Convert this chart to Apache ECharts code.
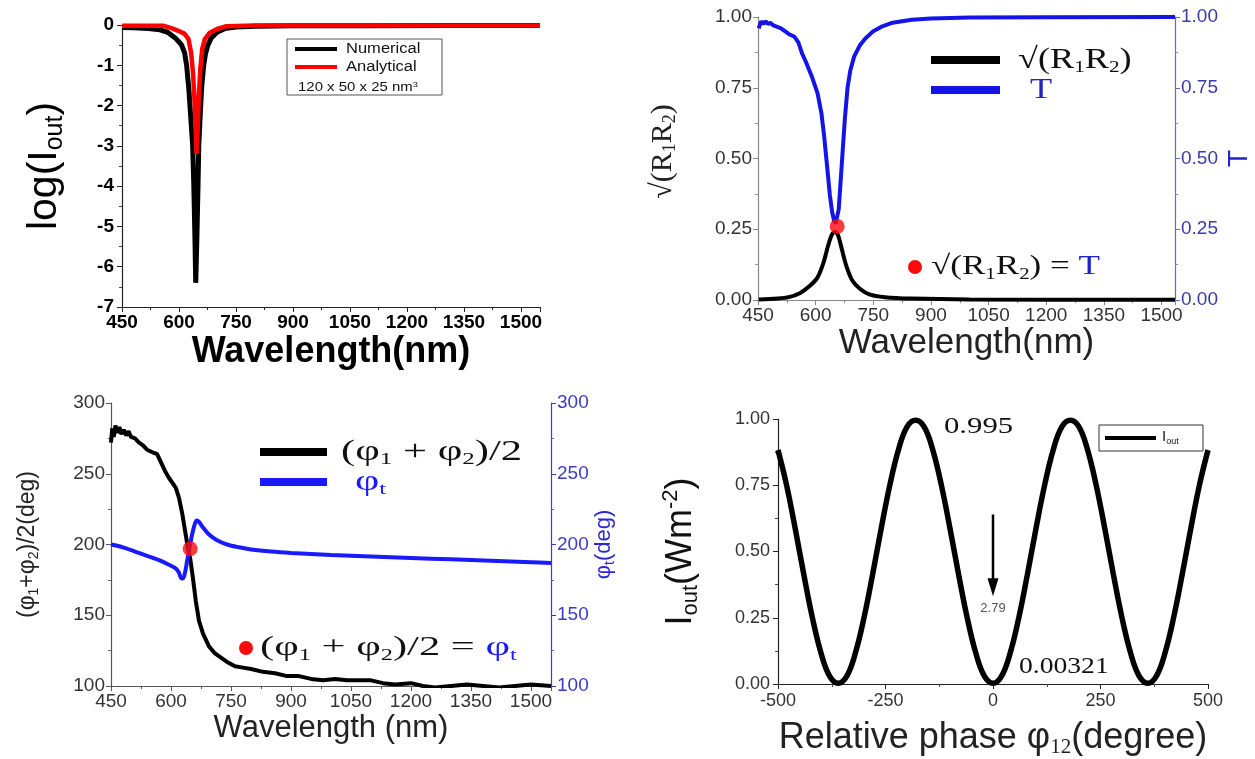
<!DOCTYPE html>
<html>
<head>
<meta charset="utf-8">
<script src="https://cdn.jsdelivr.net/npm/echarts@6/dist/echarts.min.js"></script>
<style>
  html, body { margin: 0; background: #fff; }
  #main { width: 1255px; height: 759px; }
</style>
</head>
<body>
<div id="main"></div>
<script>
// panel 1: log(Iout) vs wavelength
const numerical = [[450,-0.06],[480,-0.07],[520,-0.09],[550,-0.12],[570,-0.18],[590,-0.32],[600,-0.42],[607,-0.5],[615,-0.7],[620,-1.0],[626,-1.6],[631,-2.3],[636,-3.0],[639,-4.0],[642,-5.3],[644,-6.4],[647,-5.3],[650,-4.0],[652,-3.0],[656,-2.2],[660,-1.5],[665,-1.0],[670,-0.7],[676,-0.5],[685,-0.32],[700,-0.18],[720,-0.09],[750,-0.05],[800,-0.03],[900,-0.02],[1100,-0.02],[1300,-0.01],[1550,-0.01]];
const analytical = [[450,-0.02],[560,-0.02],[580,-0.08],[600,-0.15],[615,-0.22],[625,-0.35],[632,-0.7],[637,-1.2],[641,-1.9],[644,-2.6],[646,-3.2],[649,-2.6],[652,-1.8],[656,-1.1],[661,-0.6],[668,-0.35],[680,-0.2],[700,-0.1],[725,-0.03],[800,-0.01],[1550,-0.01]];

// panel 2: sqrt(R1R2) and T
const sqrtR1R2 = [[452,0.002],[500,0.005],[530,0.01],[560,0.025],[585,0.05],[605,0.08],[620,0.13],[632,0.19],[642,0.23],[650,0.24],[658,0.23],[668,0.18],[680,0.12],[695,0.07],[715,0.04],[740,0.02],[780,0.01],[850,0.005],[1000,0.002],[1535,0.001]];
const transT = [[452,0.96],[458,0.985],[464,0.975],[470,0.985],[476,0.975],[482,0.98],[490,0.97],[500,0.965],[510,0.96],[520,0.95],[530,0.94],[545,0.93],[555,0.91],[565,0.87],[575,0.84],[590,0.79],[605,0.73],[615,0.66],[622,0.58],[630,0.47],[637,0.37],[643,0.31],[648,0.28],[652,0.27],[656,0.275],[660,0.32],[665,0.42],[670,0.52],[676,0.64],[683,0.75],[690,0.81],[700,0.86],[715,0.9],[730,0.925],[750,0.95],[770,0.965],[800,0.98],[850,0.99],[900,0.995],[1000,0.998],[1200,0.999],[1535,1.0]];
const matchT = [[656, 0.26]];

// panel 3: phases
const phaseAvg = [[450,272],[453,282],[457,276],[461,284],[466,279],[471,283],[476,278],[482,281],[488,277],[494,280],[500,276],[510,275],[520,272],[530,270],[540,267],[555,265],[565,264],[575,258],[585,252],[595,247],[605,243],[612,240],[620,233],[628,222],[635,210],[642,198],[648,190],[655,176],[662,160],[670,146],[680,137],[695,128],[710,123],[725,120],[740,117],[760,114],[780,113],[800,112],[830,110],[860,109],[890,107],[920,107],[950,105],[980,104],[1010,105],[1040,104],[1070,104],[1100,104],[1130,102],[1160,101],[1200,102],[1230,100],[1260,99],[1300,100],[1340,101],[1380,100],[1420,99],[1460,100],[1500,101],[1550,100]];
const phaseT = [[450,200],[480,198],[510,195],[540,192],[570,189],[600,185],[612,183],[620,180],[626,176],[630,176],[635,180],[640,188],[646,197],[652,206],[658,213],[664,217],[670,216],[680,212],[695,207],[715,203],[740,200],[770,198],[800,196.5],[850,195],[900,194],[1000,192.5],[1100,191.5],[1200,190.5],[1300,189.5],[1400,188.5],[1500,187.5],[1550,187]];
const matchPhase = [[648, 197]];

// panel 4: Iout vs relative phase
const relPhase = [-500,-480,-460,-440,-420,-400,-380,-360,-340,-320,-300,-280,-260,-240,-220,-200,-180,-160,-140,-120,-100,-80,-60,-40,-20,0,20,40,60,80,100,120,140,160,180,200,220,240,260,280,300,320,340,360,380,400,420,440,460,480,500];
const iOut = [0.883,0.75,0.587,0.413,0.25,0.117,0.030,0.003,0.030,0.117,0.25,0.413,0.587,0.75,0.883,0.970,0.995,0.970,0.883,0.75,0.587,0.413,0.25,0.117,0.030,0.003,0.030,0.117,0.25,0.413,0.587,0.75,0.883,0.970,0.995,0.970,0.883,0.75,0.587,0.413,0.25,0.117,0.030,0.003,0.030,0.117,0.25,0.413,0.587,0.75,0.883];
const arrowPhase = [0, 0];
const arrowLevel = [0.64, 0.365];

const SANS = '"Liberation Sans", Arial, sans-serif';
const SERIF = '"Liberation Serif", "Times New Roman", serif';

const chart = echarts.init(document.getElementById('main'));

const fix2 = v => v.toFixed(2);
const plain = v => String(v);
const sub = (size, font, color) => ({ fontSize: size, fontFamily: font, color: color, verticalAlign: 'bottom', lineHeight: size });
const sup = (size, font, color) => ({ fontSize: size, fontFamily: font, color: color, verticalAlign: 'top', lineHeight: size });
const gSub = (size, font, color) => ({ fontSize: size, fontFamily: font, fill: color, verticalAlign: 'bottom', lineHeight: size });

function axisBase(line, minorColor) {
  return {
    splitLine: { show: false },
    axisLine: { onZero: false, lineStyle: { color: line, width: 1.2 } },
    axisTick: { length: 5, lineStyle: { color: line } },
    minorTick: { show: true, splitNumber: 2, length: 3, lineStyle: { color: minorColor || line } },
    nameLocation: 'middle',
    nameMoveOverlap: false
  };
}

function waveAxis(grid, max, style) {
  return Object.assign(axisBase(style.line), {
    gridIndex: grid, type: 'value', min: 450, max: max, interval: 150,
    axisLabel: { showMaxLabel: false, formatter: plain, color: style.label, fontFamily: SANS, fontSize: style.size, fontWeight: style.weight, margin: 6 }
  });
}

const p4iOut = relPhase.map((p, i) => [p, iOut[i]]);
const p4arrow = [
  { value: [arrowPhase[0], arrowLevel[0]], symbol: 'none' },
  { value: [arrowPhase[1], arrowLevel[1]], symbol: 'triangle', symbolRotate: 180, symbolSize: [11, 18],
    label: { show: true, position: 'bottom', distance: 6, formatter: '2.79', color: '#555', fontFamily: SANS, fontSize: 13 } }
];

chart.setOption({
  animation: false,
  backgroundColor: '#fff',
  grid: [
    { left: 122, top: 25, width: 418, height: 282 },
    { left: 758, top: 17, width: 417, height: 283 },
    { left: 111, top: 403, width: 440, height: 283 },
    { left: 778, top: 419, width: 430, height: 265 }
  ],
  xAxis: [
    Object.assign(waveAxis(0, 1550, { line: '#222', label: '#000', size: 19, weight: 'bold' }), {
      name: 'Wavelength(nm)', nameGap: 25,
      nameTextStyle: { fontFamily: SANS, fontWeight: 'bold', fontSize: 36, color: '#000', lineHeight: 40 }
    }),
    Object.assign(waveAxis(1, 1535, { line: '#888', label: '#333', size: 19, weight: 'normal' }), {
      name: 'Wavelength(nm)', nameGap: 24,
      nameTextStyle: { fontFamily: SANS, fontSize: 35, color: '#222', lineHeight: 38 }
    }),
    Object.assign(waveAxis(2, 1550, { line: '#555', label: '#333', size: 19, weight: 'normal' }), {
      name: 'Wavelength (nm)', nameGap: 25,
      nameTextStyle: { fontFamily: SANS, fontSize: 31, color: '#222', lineHeight: 34 }
    }),
    Object.assign(axisBase('#222', '#444'), {
      gridIndex: 3, type: 'value', min: -500, max: 500, interval: 250,
      axisLabel: { color: '#333', fontFamily: SANS, fontSize: 18, margin: 8 },
      name: 'Relative phase φ{s|12}(degree)', nameGap: 34,
      nameTextStyle: { fontFamily: SANS, fontSize: 36, color: '#222', lineHeight: 40,
        rich: { s: sub(21, SERIF, '#222') } }
    })
  ],
  yAxis: [
    Object.assign(axisBase('#222', '#444'), {
      gridIndex: 0, type: 'value', min: -7, max: 0, interval: 1,
      axisLabel: { color: '#000', fontFamily: SANS, fontSize: 19, fontWeight: 'bold', margin: 8 },
      name: 'log(I{s|out})', nameGap: 54,
      nameTextStyle: { fontFamily: SANS, fontSize: 41, color: '#000', lineHeight: 46,
        rich: { s: sub(25, SANS, '#000') } }
    }),
    Object.assign(axisBase('#888', '#999'), {
      gridIndex: 1, type: 'value', min: 0, max: 1, interval: 0.25,
      axisLabel: { color: '#333', fontFamily: SANS, fontSize: 19, margin: 6, formatter: fix2 },
      name: '√(R{s|1}R{s|2})', nameGap: 79,
      nameTextStyle: { fontFamily: SERIF, fontSize: 30, color: '#222', lineHeight: 32, padding: [0, 0, 0, 14],
        rich: { s: sub(18, SERIF, '#222') } }
    }),
    Object.assign(axisBase('#6a6ab8', '#8a8acc'), {
      gridIndex: 1, type: 'value', position: 'right', min: 0, max: 1, interval: 0.25,
      axisLabel: { color: '#3a3aa8', fontFamily: SANS, fontSize: 19, margin: 6, formatter: fix2 },
      name: 'T', nameGap: 50, nameRotate: 90,
      nameTextStyle: { fontFamily: SANS, fontSize: 28, color: '#2222cc', lineHeight: 28 }
    }),
    Object.assign(axisBase('#555', '#666'), {
      gridIndex: 2, type: 'value', min: 100, max: 300, interval: 50,
      axisLabel: { color: '#333', fontFamily: SANS, fontSize: 19, margin: 6 },
      name: '(φ{s|1}+φ{s|2})/2(deg)', nameGap: 70,
      nameTextStyle: { fontFamily: SANS, fontSize: 23, color: '#222', lineHeight: 26,
        rich: { s: sub(14, SANS, '#222') } }
    }),
    Object.assign(axisBase('#3b3bd0', '#5b5bd8'), {
      gridIndex: 2, type: 'value', position: 'right', min: 100, max: 300, interval: 50,
      axisLabel: { color: '#3b3bc8', fontFamily: SANS, fontSize: 19, margin: 6 },
      name: 'φ{s|t}(deg)', nameGap: 40, nameRotate: 90,
      nameTextStyle: { fontFamily: SANS, fontSize: 22, color: '#2a2ad0', lineHeight: 26,
        rich: { s: sub(14, SANS, '#2a2ad0') } }
    }),
    Object.assign(axisBase('#222', '#444'), {
      gridIndex: 3, type: 'value', min: 0, max: 1, interval: 0.25,
      axisLabel: { color: '#333', fontFamily: SANS, fontSize: 18, margin: 8, formatter: fix2 },
      name: 'I{s|out}(Wm{p|-2})', nameGap: 76,
      nameTextStyle: { fontFamily: SANS, fontSize: 36, color: '#111', lineHeight: 42,
        rich: { s: sub(22, SANS, '#111'), p: sup(22, SANS, '#111') } }
    })
  ],
  series: [
    { type: 'line', xAxisIndex: 0, yAxisIndex: 0, data: numerical, showSymbol: false,
      lineStyle: { color: '#000', width: 5 }, z: 2 },
    { type: 'line', xAxisIndex: 0, yAxisIndex: 0, data: analytical, showSymbol: false,
      lineStyle: { color: '#ff0000', width: 4.5 }, z: 3 },

    { type: 'line', xAxisIndex: 1, yAxisIndex: 1, data: sqrtR1R2, showSymbol: false, smooth: 0.3,
      lineStyle: { color: '#000', width: 4 } },
    { type: 'line', xAxisIndex: 1, yAxisIndex: 2, data: transT, showSymbol: false,
      lineStyle: { color: '#1414e6', width: 4 } },
    { type: 'scatter', xAxisIndex: 1, yAxisIndex: 1, data: matchT, symbolSize: 15,
      itemStyle: { color: '#ff0a0a' }, z: 5 },

    { type: 'line', xAxisIndex: 2, yAxisIndex: 3, data: phaseAvg, showSymbol: false,
      lineStyle: { color: '#000', width: 4 } },
    { type: 'line', xAxisIndex: 2, yAxisIndex: 4, data: phaseT, showSymbol: false, smooth: 0.3,
      lineStyle: { color: '#1a1aff', width: 4 } },
    { type: 'scatter', xAxisIndex: 2, yAxisIndex: 3, data: matchPhase, symbolSize: 15,
      itemStyle: { color: '#ff0a0a' }, z: 5 },

    { type: 'line', xAxisIndex: 3, yAxisIndex: 5, data: p4iOut, showSymbol: false, smooth: 0.4,
      lineStyle: { color: '#000', width: 5.5 } },
    { type: 'line', xAxisIndex: 3, yAxisIndex: 5, data: p4arrow, showAllSymbol: true,
      lineStyle: { color: '#000', width: 2.5 }, itemStyle: { color: '#000' }, z: 4 }
  ],
  graphic: [
    // panel 1 legend
    { type: 'rect', shape: { x: 287, y: 39, width: 155, height: 56 }, style: { fill: '#fff', stroke: '#555', lineWidth: 1 }, z: 10 },
    { type: 'line', shape: { x1: 295, y1: 49, x2: 337, y2: 49 }, style: { stroke: '#000', lineWidth: 4 }, z: 11 },
    { type: 'line', shape: { x1: 295, y1: 67, x2: 337, y2: 67 }, style: { stroke: '#ff0000', lineWidth: 4 }, z: 11 },
    { type: 'text', x: 346, y: 49, scaleX: 1.18, style: { text: 'Numerical', font: '14px ' + SANS, fill: '#111', verticalAlign: 'middle' }, z: 11 },
    { type: 'text', x: 346, y: 67, scaleX: 1.18, style: { text: 'Analytical', font: '14px ' + SANS, fill: '#111', verticalAlign: 'middle' }, z: 11 },
    { type: 'text', x: 298, y: 87, scaleX: 1.15, style: { text: '120 x 50 x 25 nm{p|3}', font: '13px ' + SANS, fill: '#111', verticalAlign: 'middle',
      rich: { p: { fontSize: 8, fontFamily: SANS, fill: '#111', verticalAlign: 'top', lineHeight: 8 } } }, z: 11 },

    // panel 2 legend
    { type: 'line', shape: { x1: 931, y1: 60, x2: 1000, y2: 60 }, style: { stroke: '#000', lineWidth: 8 } },
    { type: 'line', shape: { x1: 931, y1: 90, x2: 1000, y2: 90 }, style: { stroke: '#1414e6', lineWidth: 8 } },
    { type: 'text', x: 1018, y: 60, scaleX: 1.25, style: { text: '√(R{s|1}R{s|2})', font: '29px ' + SERIF, fill: '#111', verticalAlign: 'middle', lineHeight: 32,
      rich: { s: gSub(17, SERIF, '#111') } } },
    { type: 'text', x: 1030, y: 90, scaleX: 1.25, style: { text: 'T', font: '29px ' + SERIF, fill: '#2222cc', verticalAlign: 'middle' } },
    { type: 'circle', shape: { cx: 915, cy: 267, r: 7 }, style: { fill: '#ff0a0a' } },
    { type: 'text', x: 931, y: 267, scaleX: 1.3, style: { text: '√(R{s|1}R{s|2}) = {b|T}', font: '27px ' + SERIF, fill: '#111', verticalAlign: 'middle', lineHeight: 32,
      rich: { s: gSub(16, SERIF, '#111'), b: { fontSize: 27, fontFamily: SERIF, fill: '#2222cc' } } } },

    // panel 3 legend
    { type: 'line', shape: { x1: 260, y1: 452, x2: 327, y2: 452 }, style: { stroke: '#000', lineWidth: 8 } },
    { type: 'line', shape: { x1: 260, y1: 482, x2: 327, y2: 482 }, style: { stroke: '#1a1aff', lineWidth: 8 } },
    { type: 'text', x: 341, y: 452, scaleX: 1.47, style: { text: '(φ{s|1} + φ{s|2})/2', font: '29px ' + SERIF, fill: '#111', verticalAlign: 'middle', lineHeight: 32,
      rich: { s: gSub(17, SERIF, '#111') } } },
    { type: 'text', x: 355, y: 482, scaleX: 1.45, style: { text: 'φ{s|t}', font: '29px ' + SERIF, fill: '#1a1aff', verticalAlign: 'middle', lineHeight: 32,
      rich: { s: gSub(17, SERIF, '#1a1aff') } } },
    { type: 'circle', shape: { cx: 246, cy: 648, r: 7 }, style: { fill: '#ff0a0a' } },
    { type: 'text', x: 260, y: 648, scaleX: 1.52, style: { text: '(φ{s|1} + φ{s|2})/2 = {b|φ}{c|t}', font: '28px ' + SERIF, fill: '#111', verticalAlign: 'middle', lineHeight: 32,
      rich: { s: gSub(16, SERIF, '#111'), b: { fontSize: 28, fontFamily: SERIF, fill: '#1a1aff' }, c: gSub(16, SERIF, '#1a1aff') } } },

    // panel 4 annotations and legend
    { type: 'text', x: 944, y: 427, scaleX: 1.28, style: { text: '0.995', font: '24px ' + SERIF, fill: '#111', verticalAlign: 'middle' } },
    { type: 'text', x: 1019, y: 667, scaleX: 1.15, style: { text: '0.00321', font: '24px ' + SERIF, fill: '#111', verticalAlign: 'middle' } },
    { type: 'rect', shape: { x: 1099, y: 425, width: 104, height: 26 }, style: { fill: '#fff', stroke: '#333', lineWidth: 1 }, z: 10 },
    { type: 'line', shape: { x1: 1105, y1: 438, x2: 1156, y2: 438 }, style: { stroke: '#000', lineWidth: 4 }, z: 11 },
    { type: 'text', x: 1162, y: 437, style: { text: 'I{s|out}', font: '15px ' + SANS, fill: '#111', verticalAlign: 'middle', lineHeight: 18,
      rich: { s: { fontSize: 9, fontFamily: SANS, fill: '#111', verticalAlign: 'bottom', lineHeight: 9 } } }, z: 11 }
  ]
});
</script>
</body>
</html>
